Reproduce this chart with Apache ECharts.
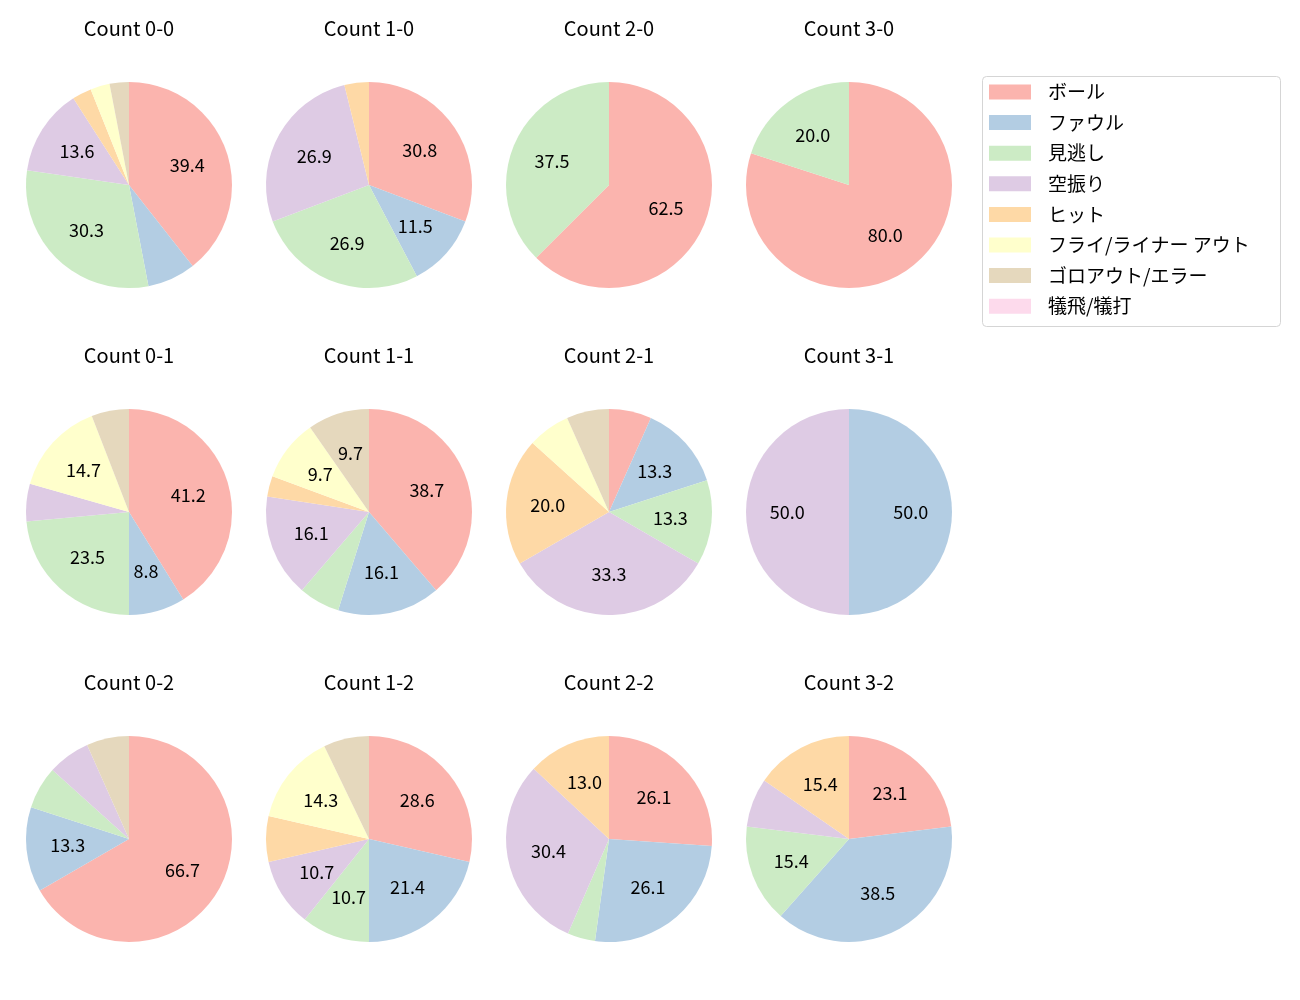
<!DOCTYPE html>
<html><head><meta charset="utf-8">
<script src="https://cdn.jsdelivr.net/npm/echarts@6/dist/echarts.min.js"></script>
<style>html,body{margin:0;padding:0;background:#fff}#c{width:1300px;height:1000px}</style>
</head><body><div id="c"></div>
<script>
const categories = ['ボール','ファウル','見逃し','空振り','ヒット','フライ/ライナー アウト','ゴロアウト/エラー','犠飛/犠打'];
const colors = ['#fbb4ae','#b3cde3','#ccebc5','#decbe4','#fed9a6','#ffffcc','#e5d8bd','#fddaec'];
const panelTitles = ['Count 0-0','Count 1-0','Count 2-0','Count 3-0',
                     'Count 0-1','Count 1-1','Count 2-1','Count 3-1',
                     'Count 0-2','Count 1-2','Count 2-2','Count 3-2'];
const count_0_0 = [26,5,20,9,2,2,2,0];
const count_1_0 = [8,3,7,7,1,0,0,0];
const count_2_0 = [5,0,3,0,0,0,0,0];
const count_3_0 = [4,0,1,0,0,0,0,0];
const count_0_1 = [14,3,8,2,0,5,2,0];
const count_1_1 = [12,5,2,5,1,3,3,0];
const count_2_1 = [1,2,2,5,3,1,1,0];
const count_3_1 = [0,1,0,1,0,0,0,0];
const count_0_2 = [10,2,1,1,0,0,1,0];
const count_1_2 = [8,6,3,3,2,4,2,0];
const count_2_2 = [6,6,1,7,3,0,0,0];
const count_3_2 = [3,5,2,1,2,0,0,0];
const panelData = [count_0_0,count_1_0,count_2_0,count_3_0,
                   count_0_1,count_1_1,count_2_1,count_3_1,
                   count_0_2,count_1_2,count_2_2,count_3_2];
const labelMinPct = 8;

const FONT = '"Noto Sans CJK JP", "Noto Sans", sans-serif';
const colX = [129, 369, 609, 849];
const rowY = [185, 512, 839];
const R = 103;

const titles = [];
const visSeries = [];
const labSeries = [];
panelData.forEach((vals, i) => {
  const cx = colX[i % 4], cy = rowY[Math.floor(i / 4)];
  const total = vals.reduce((a, b) => a + b, 0);
  titles.push({
    text: panelTitles[i], left: cx, top: cy - 167, textAlign: 'center', padding: 0,
    textStyle: { fontSize: 20, fontWeight: 'normal', color: '#000', fontFamily: FONT }
  });
  visSeries.push({
    type: 'pie', center: [cx, cy], radius: [0, R], startAngle: 90, clockwise: true,
    silent: true, animation: false, minAngle: 0, avoidLabelOverlap: false,
    label: { show: false }, labelLine: { show: false },
    data: categories.map((n, j) => ({ name: n, value: vals[j], itemStyle: { color: colors[j] } }))
  });
  labSeries.push({
    type: 'pie', center: [cx, cy], radius: [0, R * 1.14], startAngle: 90, clockwise: true,
    silent: true, animation: false, avoidLabelOverlap: false, z: 5,
    itemStyle: { color: 'rgba(0,0,0,0)', borderWidth: 0 },
    labelLine: { show: false },
    label: {
      show: true, position: 'inside', color: '#000', fontSize: 18, fontFamily: FONT,
      formatter: p => { const pct = p.value / total * 100; return pct >= labelMinPct ? pct.toFixed(1) : ''; }
    },
    data: categories.map((n, j) => ({ name: n, value: vals[j] }))
  });
});

const chart = echarts.init(document.getElementById('c'), null, { renderer: 'canvas' });
chart.setOption({
  backgroundColor: '#fff',
  animation: false,
  title: titles,
  legend: {
    orient: 'vertical', left: 989, top: 82.5, padding: 0,
    itemWidth: 42, itemHeight: 15, itemGap: 11.6,
    icon: 'rect', selectedMode: false,
    textStyle: { fontSize: 19, color: '#000', fontFamily: FONT, padding: [0, 0, 0, 12] },
    data: categories.map((n, j) => ({ name: n, itemStyle: { color: colors[j] } }))
  },
  graphic: [{
    type: 'rect', shape: { x: 982.5, y: 76.5, width: 298, height: 250, r: 4 },
    style: { fill: 'none', stroke: '#d5d5d5', lineWidth: 1 }, silent: true, z: -1
  }],
  series: visSeries.concat(labSeries)
});
</script></body></html>
